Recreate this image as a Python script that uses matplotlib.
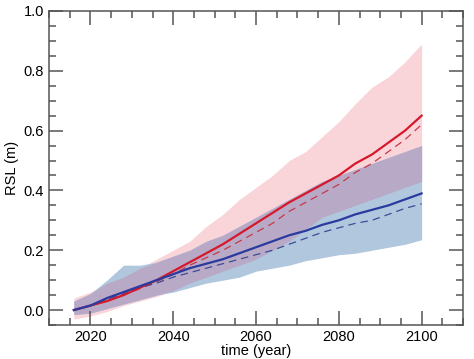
import numpy as np
import matplotlib
matplotlib.use("Agg")
import matplotlib.pyplot as plt
from matplotlib.ticker import MultipleLocator

plt.rcParams['font.family'] = ['Liberation Sans', 'DejaVu Sans']

# years
years = [2016, 2020, 2024, 2028, 2032, 2036, 2040, 2044, 2048, 2052, 2056,
         2060, 2064, 2068, 2072, 2076, 2080, 2084, 2088, 2092, 2096, 2100]

# red scenario: mean, dashed, band
red_mean = [0.00, 0.015, 0.03, 0.05, 0.075, 0.10, 0.13, 0.16, 0.19, 0.22, 0.255,
            0.29, 0.325, 0.36, 0.39, 0.42, 0.45, 0.49, 0.52, 0.56, 0.60, 0.65]
red_dash = [0.00, 0.015, 0.03, 0.05, 0.072, 0.095, 0.12, 0.15, 0.175, 0.20, 0.23,
            0.26, 0.29, 0.33, 0.36, 0.39, 0.42, 0.46, 0.49, 0.53, 0.57, 0.62]
red_up = [0.04, 0.06, 0.09, 0.11, 0.14, 0.17, 0.20, 0.23, 0.28, 0.32, 0.37,
          0.41, 0.45, 0.50, 0.53, 0.58, 0.63, 0.69, 0.745, 0.78, 0.83, 0.89]
red_lo = [-0.03, -0.02, -0.005, 0.015, 0.03, 0.045, 0.065, 0.09, 0.11, 0.13, 0.15,
          0.17, 0.20, 0.23, 0.27, 0.31, 0.33, 0.35, 0.37, 0.39, 0.41, 0.43]

# blue scenario
blue_mean = [0.00, 0.015, 0.04, 0.06, 0.08, 0.10, 0.12, 0.14, 0.155, 0.17, 0.19,
             0.21, 0.23, 0.25, 0.265, 0.285, 0.30, 0.32, 0.335, 0.35, 0.37, 0.39]
blue_dash = [0.00, 0.015, 0.035, 0.055, 0.075, 0.09, 0.11, 0.125, 0.14, 0.155, 0.17,
             0.185, 0.20, 0.22, 0.24, 0.26, 0.275, 0.29, 0.30, 0.32, 0.34, 0.355]
blue_up = [0.03, 0.055, 0.10, 0.15, 0.15, 0.16, 0.18, 0.20, 0.23, 0.25, 0.28,
           0.31, 0.34, 0.37, 0.40, 0.43, 0.45, 0.47, 0.49, 0.51, 0.53, 0.55]
blue_lo = [-0.015, -0.01, 0.005, 0.02, 0.035, 0.05, 0.06, 0.075, 0.09, 0.10, 0.11,
           0.13, 0.14, 0.15, 0.165, 0.175, 0.185, 0.19, 0.20, 0.21, 0.22, 0.235]

fig = plt.figure(figsize=(4.74, 3.59), dpi=100)
ax = fig.add_axes([0.1034, 0.0947, 0.8734, 0.8747])

# shaded ranges, overlap drawn in its own mixed colour
ov_lo = np.maximum(red_lo, blue_lo)
ov_up = np.minimum(red_up, blue_up)
ax.fill_between(years, red_lo, red_up, color='#f9d4d9', lw=0)
ax.fill_between(years, blue_lo, blue_up, color='#b0c7de', lw=0)
ax.fill_between(years, ov_lo, ov_up, where=ov_up > ov_lo, interpolate=True,
                color='#b8aac6', lw=0)

# dashed then solid lines
ax.plot(years, red_dash, color='#c8384a', lw=0.9, dashes=(6, 4))
ax.plot(years, blue_dash, color='#3d4c98', lw=0.9, dashes=(6, 4))
ax.plot(years, red_mean, color='#d6182c', lw=1.6)
ax.plot(years, blue_mean, color='#2a3a9e', lw=1.6)

ax.set_xlim(2010, 2110)
ax.set_ylim(-0.05, 1.0)
ax.xaxis.set_minor_locator(MultipleLocator(5))
ax.yaxis.set_minor_locator(MultipleLocator(0.05))
ax.set_xticks([2020, 2040, 2060, 2080, 2100])
ax.set_yticks([0.0, 0.2, 0.4, 0.6, 0.8, 1.0])
ax.set_yticklabels(['0.0', '0.2', '0.4', '0.6', '0.8', '1.0'])

spine_col = '#555555'
for s in ax.spines.values():
    s.set_color(spine_col)
    s.set_linewidth(1.1)
ax.tick_params(which='both', direction='in', top=True, right=True,
               color=spine_col, labelsize=10.5)
ax.tick_params(which='major', length=10, width=1.1)
ax.tick_params(which='minor', length=5, width=1.1)

ax.set_xlabel('time (year)', fontsize=10.5, labelpad=0)
ax.set_ylabel('RSL (m)', fontsize=10.5, labelpad=3)

fig.savefig('out.png', dpi=100)
